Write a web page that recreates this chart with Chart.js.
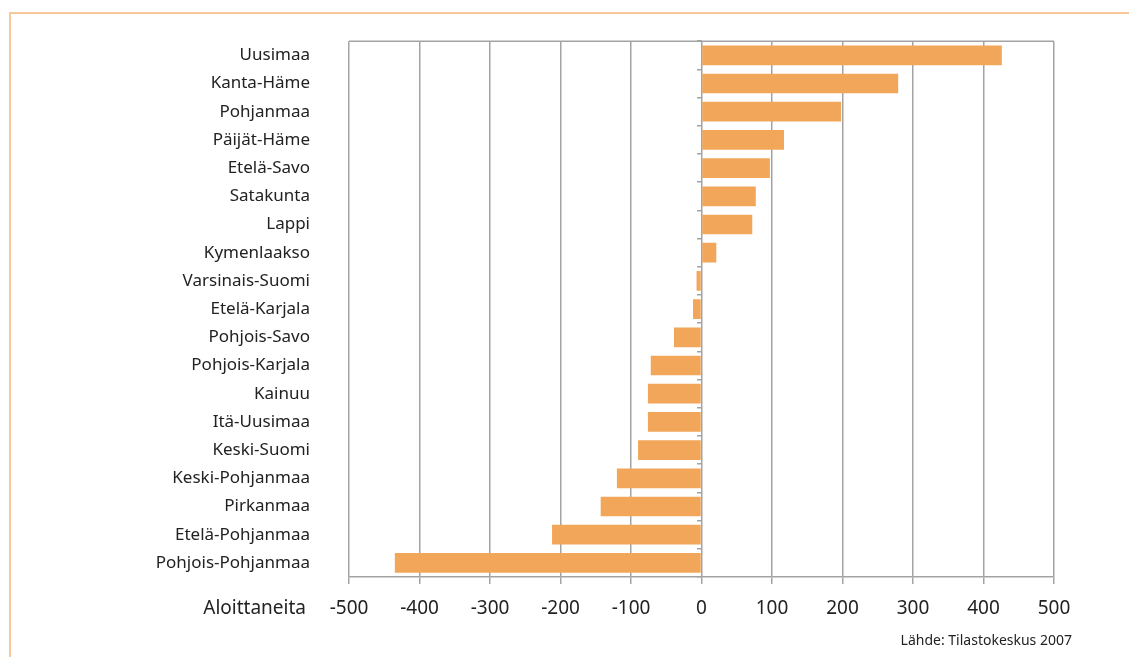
<!DOCTYPE html>
<html>
<head>
<meta charset="utf-8">
<script src="https://cdn.jsdelivr.net/npm/chart.js@4/dist/chart.umd.min.js"></script>
<style>
  html, body { margin: 0; padding: 0; background: #fff; }
  #wrap { position: relative; width: 1129px; height: 657px; overflow: hidden; }
  #frame {
    position: absolute; left: 9px; top: 12px; width: 1200px; height: 700px;
    border-top: 2px solid #f6c89a; border-left: 2px solid #f6c89a;
  }
  #chart { position: absolute; left: 0; top: 0; }
</style>
</head>
<body>
<div id="wrap">
  <div id="frame"></div>
  <canvas id="chart" width="1129" height="657"></canvas>
</div>
<script>
// Data
const regions = [
  'Uusimaa', 'Kanta-Häme', 'Pohjanmaa', 'Päijät-Häme', 'Etelä-Savo', 'Satakunta',
  'Lappi', 'Kymenlaakso', 'Varsinais-Suomi', 'Etelä-Karjala', 'Pohjois-Savo',
  'Pohjois-Karjala', 'Kainuu', 'Itä-Uusimaa', 'Keski-Suomi', 'Keski-Pohjanmaa',
  'Pirkanmaa', 'Etelä-Pohjanmaa', 'Pohjois-Pohjanmaa'
];
const aloittaneita = [426, 279, 198, 117, 97, 77, 72, 21, -7, -12, -39, -72, -76, -76, -90, -120, -143, -212, -435];
const axisTitle = 'Aloittaneita';
const sourceNote = 'Lähde: Tilastokeskus 2007';

const FONT = "'Noto Sans', 'DejaVu Sans', sans-serif";
const GRID = '#a3a3a3';
const TEXT = '#222';

// Top border of the plot frame + the "Aloittaneita" and source labels
const extras = {
  id: 'extras',
  afterDraw(chart) {
    const { ctx, chartArea: a } = chart;
    ctx.save();
    ctx.strokeStyle = GRID;
    ctx.lineWidth = 1.5;
    ctx.beginPath();
    ctx.moveTo(a.left, a.top);
    ctx.lineTo(a.right, a.top);
    ctx.stroke();

    ctx.fillStyle = TEXT;
    ctx.textBaseline = 'middle';
    ctx.textAlign = 'right';
    ctx.font = '19px ' + FONT;
    ctx.fillText(axisTitle, a.left - 43, a.bottom + 32);
    ctx.font = '14px ' + FONT;
    ctx.fillText(sourceNote, a.right + 18, a.bottom + 64);
    ctx.restore();
  }
};

new Chart(document.getElementById('chart'), {
  type: 'bar',
  data: {
    labels: regions,
    datasets: [{
      data: aloittaneita,
      yAxisID: 'y',
      backgroundColor: '#f2a65a',
      borderWidth: 0,
      barPercentage: 0.7,
      categoryPercentage: 1,
    }]
  },
  options: {
    indexAxis: 'y',
    responsive: false,
    animation: false,
    layout: { padding: { left: 0, top: 34, right: 75, bottom: 35 } },
    plugins: {
      legend: { display: false },
      tooltip: { enabled: false },
    },
    scales: {
      x: {
        min: -500,
        max: 500,
        afterFit: (s) => { s.height = 45; },
        ticks: {
          stepSize: 100,
          padding: 13,
          color: TEXT,
          font: { family: FONT, size: 19 },
        },
        grid: { color: GRID, lineWidth: 1.5, tickLength: 7 },
        border: { color: GRID, width: 1.5 },
      },
      y: {
        afterFit: (s) => { s.width = 349; },
        ticks: {
          padding: 31,
          color: TEXT,
          font: { family: FONT, size: 17 },
        },
        grid: { display: false },
        border: { display: false },
      },
      y0: {
        type: 'category',
        position: { x: 0 },
        offset: true,
        ticks: { display: false },
        grid: { offset: true, drawOnChartArea: false, color: GRID, lineWidth: 1.5, tickLength: 5 },
        border: { display: false },
      }
    }
  },
  plugins: [extras]
});
</script>
</body>
</html>
